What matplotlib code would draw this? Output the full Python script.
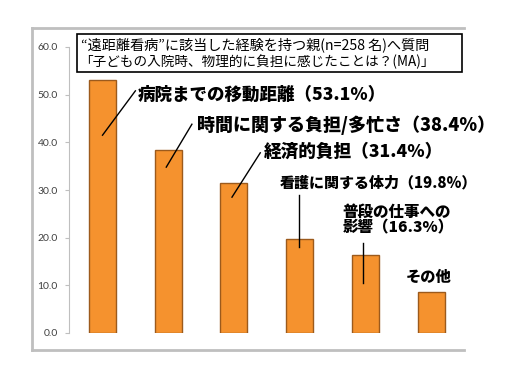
import matplotlib
matplotlib.use("Agg")
import matplotlib.pyplot as plt
from matplotlib.lines import Line2D
from matplotlib.patches import Rectangle

plt.rcParams['font.family'] = ['Noto Sans CJK JP', 'DejaVu Sans']

# データ
categories = ['病院までの移動距離', '時間に関する負担/多忙さ', '経済的負担',
              '看護に関する体力', '普段の仕事への影響', 'その他']
values = [53.1, 38.4, 31.4, 19.8, 16.3, 8.6]
yticks = [0, 10, 20, 30, 40, 50, 60]

title_lines = ['“遠距離看病”に該当した経験を持つ親(n=258 名)へ質問',
               '「子どもの入院時、物理的に負担に感じたことは？(MA)」']

label_texts = ['病院までの移動距離（53.1%）',
               '時間に関する負担/多忙さ（38.4%）',
               '経済的負担（31.4%）',
               '看護に関する体力（19.8%）',
               '普段の仕事への\n影響（16.3%）',
               'その他']

# ラベル位置と引き出し線 (データ座標)
label_pos = [(0.54, 49.9), (1.44, 43.6), (2.46, 38.0), (2.69, 31.5), (3.65, 23.7), (4.62, 11.7)]
label_size = [12.6, 13.0, 12.7, 10.8, 11.2, 11.0]
leader = [((0.0, 41.5), (0.50, 50.8)),
          ((0.97, 34.8), (1.36, 43.8)),
          ((1.97, 28.5), (2.40, 37.8)),
          ((2.99, 28.9), (2.99, 18.0)),
          ((3.965, 18.9), (3.965, 10.5)),
          None]

fig = plt.figure(figsize=(5.08, 3.76), dpi=100)
ax = fig.add_axes([69 / 508, 1 - 333 / 376, 395 / 508, 286 / 376])

x = range(len(values))
ax.bar(x, values, width=0.41, color='#F5922E', edgecolor='#9C5A1C', linewidth=1.0, zorder=2)

ax.set_xlim(-0.51, 5.5)
ax.set_ylim(0, 60)
ax.set_yticks(yticks)
ax.set_yticklabels([f'{v:.1f}' for v in yticks], family='Lato', fontsize=7.5, color='#404040')
ax.set_xticks([])
for s in ['top', 'right', 'bottom']:
    ax.spines[s].set_visible(False)
ax.spines['left'].set_color('#BFBFBF')
ax.tick_params(axis='y', length=3, color='#BFBFBF', pad=5)
ax.patch.set_alpha(0)

for i, txt in enumerate(label_texts):
    ax.text(label_pos[i][0], label_pos[i][1], txt, fontsize=label_size[i],
            fontweight='heavy', ha='left', va='center', linespacing=1.05, zorder=4)
    if leader[i] is not None:
        (x0, y0), (x1, y1) = leader[i]
        ax.plot([x0, x1], [y0, y1], color='black', lw=1.0, zorder=3)

# 外枠
frame_col = '#BFBFBF'
fig.add_artist(Line2D([32 / 508, 32 / 508], [1 - 350 / 376, 1 - 28 / 376], color=frame_col, lw=2, transform=fig.transFigure))
fig.add_artist(Line2D([32 / 508, 464 / 508], [1 - 28 / 376, 1 - 28 / 376], color=frame_col, lw=2, transform=fig.transFigure))
fig.add_artist(Line2D([32 / 508, 464 / 508], [1 - 350 / 376, 1 - 350 / 376], color=frame_col, lw=2, transform=fig.transFigure))

# タイトルボックス
fig.add_artist(Rectangle((77 / 508, 1 - 72 / 376), 385 / 508, 38 / 376, transform=fig.transFigure,
                         facecolor='white', edgecolor='black', lw=1.2, zorder=5))
fig.text(81 / 508, 1 - 45 / 376, title_lines[0], fontsize=10.2, va='center', ha='left', zorder=6)
fig.text(79 / 508, 1 - 62 / 376, title_lines[1], fontsize=9.8, va='center', ha='left', zorder=6)

fig.savefig('out.png', dpi=100, facecolor='white')
